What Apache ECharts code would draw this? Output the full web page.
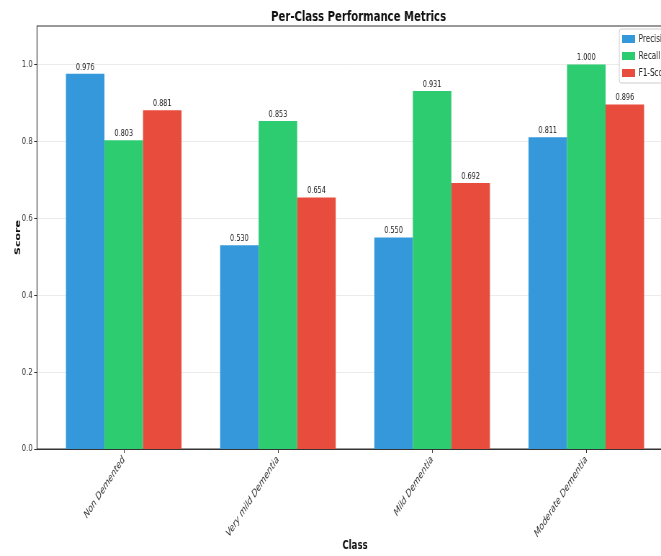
<!DOCTYPE html>
<html><head><meta charset="utf-8">
<script src="https://cdn.jsdelivr.net/npm/echarts@6/dist/echarts.min.js"></script>
<style>
html,body{margin:0;padding:0;background:#fff;overflow:hidden;width:661px;height:556px}
#c{width:918px;height:556px;transform:scaleX(0.72004);transform-origin:0 0}
</style>
</head><body><div id="c"></div>
<script>
const categories = ["Non Demented", "Very mild Dementia", "Mild Dementia", "Moderate Dementia"];
const precision = [0.976, 0.530, 0.550, 0.811];
const recall = [0.803, 0.853, 0.931, 1.000];
const f1score = [0.881, 0.654, 0.692, 0.896];
const seriesNames = ["Precision", "Recall", "F1-Score"];
const colors = ["#3498db", "#2ecc71", "#e74c3c"];
const yTicks = [0, 0.2, 0.4, 0.6, 0.8, 1.0];

const barW = 0.25; // bar width in category units
const offsets = [-barW, 0, barW];
const allVals = [precision, recall, f1score];
const font = "'DejaVu Sans', sans-serif";

const chart = echarts.init(document.getElementById('c'), null, {renderer: 'canvas', width: 918, height: 556});
const series = allVals.map((vals, s) => ({
  name: seriesNames[s],
  type: 'bar',
  barWidth: 53.5,
  barGap: '-100%',
  itemStyle: {color: colors[s]},
  label: {
    show: true, position: 'top', distance: 2,
    fontFamily: font, fontSize: 9, color: '#222',
    formatter: p => p.value[1].toFixed(3)
  },
  data: vals.map((v, i) => [i + offsets[s], v])
}));

chart.setOption({
  animation: false,
  backgroundColor: '#fff',
  title: {
    text: 'Per-Class Performance Metrics',
    left: 493, top: 5, textAlign: 'center',
    textStyle: {fontFamily: font, fontWeight: 'bold', fontSize: 14, color: '#111'}
  },
  legend: {
    orient: 'vertical', left: 860, top: 29,
    itemWidth: 18, itemHeight: 8, itemGap: 7,
    icon: 'rect',
    padding: [5, 6, 5, 4],
    borderColor: '#cccccc', borderWidth: 1, borderRadius: 3,
    backgroundColor: 'rgba(255,255,255,0.9)',
    textStyle: {fontFamily: font, fontSize: 10, color: '#222'},
    data: seriesNames
  },
  grid: {left: 51.4, right: -16.7, top: 26, bottom: 107, show: true, borderColor: '#333', borderWidth: 1, outerBoundsMode: 'none', containLabel: false},
  xAxis: {
    type: 'value', min: -0.5625, max: 3.5625,
    name: 'Class', nameLocation: 'middle', nameGap: 91, nameMoveOverlap: false,
    nameTextStyle: {fontFamily: font, fontWeight: 'bold', fontSize: 12, color: '#111'},
    axisLine: {show: true, onZero: false, lineStyle: {color: '#333'}},
    axisTick: {show: true, customValues: [0, 1, 2, 3], length: 4, lineStyle: {color: '#333'}},
    axisLabel: {
      customValues: [0, 1, 2, 3], rotate: 48, margin: 9,
      fontFamily: font, fontStyle: 'italic', fontSize: 10.5, color: '#333',
      formatter: v => categories[Math.round(v)]
    },
    splitLine: {show: false}
  },
  yAxis: {
    type: 'value', min: 0, max: 1.1,
    name: 'Score', nameLocation: 'middle', nameGap: 21, nameMoveOverlap: false,
    nameTextStyle: {fontFamily: font, fontWeight: 'bold', fontSize: 11, color: '#111'},
    axisLine: {show: true, onZero: false, lineStyle: {color: '#333'}},
    axisTick: {show: true, customValues: yTicks, length: 4, lineStyle: {color: '#333'}},
    axisLabel: {
      customValues: yTicks, margin: 6,
      fontFamily: font, fontSize: 9.5, color: '#333',
      formatter: v => v.toFixed(1)
    },
    splitLine: {show: true, lineStyle: {color: '#ebebeb', width: 1}}
  },
  series: series
});
</script></body></html>
